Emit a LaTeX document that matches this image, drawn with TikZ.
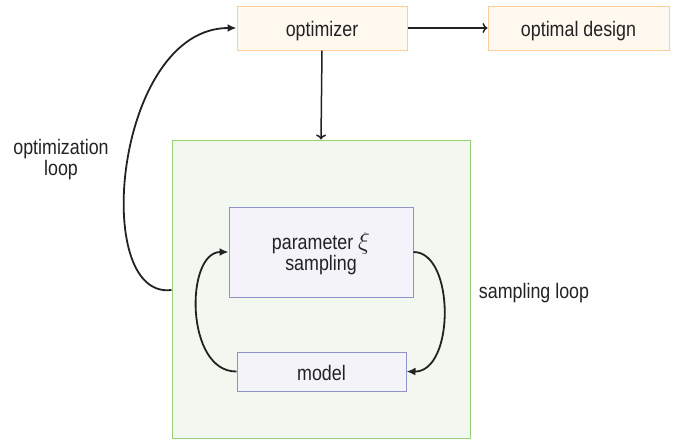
\documentclass[tikz,border=0pt]{standalone}
\usepackage{fontspec}
\setmainfont[FakeStretch=0.85]{Liberation Sans}
\usetikzlibrary{arrows.meta}
\definecolor{optfill}{HTML}{FFF9F0}
\definecolor{optdraw}{HTML}{FFCD99}
\definecolor{grnfill}{HTML}{F2F8F0}
\definecolor{grndraw}{HTML}{97D077}
\definecolor{blufill}{HTML}{F3F3F9}
\definecolor{bludraw}{HTML}{8F93C9}
\definecolor{ink}{HTML}{222222}
\begin{document}
\begin{tikzpicture}[x=1pt,y=-1pt,
  every node/.style={font=\fontsize{21}{24}\selectfont, text=ink},
  optbox/.style={draw=optdraw, fill=optfill, line width=1pt, rectangle, inner sep=0pt},
  grnbox/.style={draw=grndraw, fill=grnfill, line width=1pt, rectangle, inner sep=0pt},
  blubox/.style={draw=bludraw, fill=blufill, line width=1pt, rectangle, inner sep=0pt},
  straight/.style={draw=ink, line width=1.5pt, -{To[length=5pt,width=10pt]}},
  curved/.style={draw=ink, line width=1.8pt, -{Latex[length=9pt,width=8pt]}},
  lbl/.style={align=center, inner sep=0pt}]
\useasboundingbox (0,0) rectangle (692,442);

% boxes
\node[optbox, minimum width=170pt, minimum height=44pt] (opt) at (322,28) {};
\node[optbox, minimum width=181pt, minimum height=44pt] (des) at (578.5,28) {};
\node[grnbox, minimum width=298pt, minimum height=298pt] (loop) at (321,289) {};
\node[blubox, minimum width=184pt, minimum height=90pt] (par) at (321,252) {};
\node[blubox, minimum width=169pt, minimum height=39pt] (mod) at (321.5,371.5) {};

% box texts
\node[lbl] (opttxt) at (322,31) {optimizer};
\node[lbl] (destxt) at (578.5,31) {optimal design};
\node[lbl] (partxt) at (321,254)
  {parameter {\fontsize{27}{24}\selectfont$\xi$}\\[-3pt]sampling};
\node[lbl] (modtxt) at (321.5,373) {model};

% labels
\node[lbl] (optlbl) at (61,160) {optimization\\[-3pt]loop};
\node[lbl] (smplbl) at (534,293) {sampling loop};

% connectors
\draw[straight] (opt.east) -- (des.west);
\draw[straight] (opt.south) -- (loop.north);
\draw[curved] (loop.west |- 0,290) .. controls (90,300) and (115,28) .. (opt.west);
\draw[curved] (par.east) .. controls (455,252) and (455,372) .. (mod.east);
\draw[curved] (mod.west) .. controls (185,372) and (185,252) .. (par.west);
\end{tikzpicture}
\end{document}
